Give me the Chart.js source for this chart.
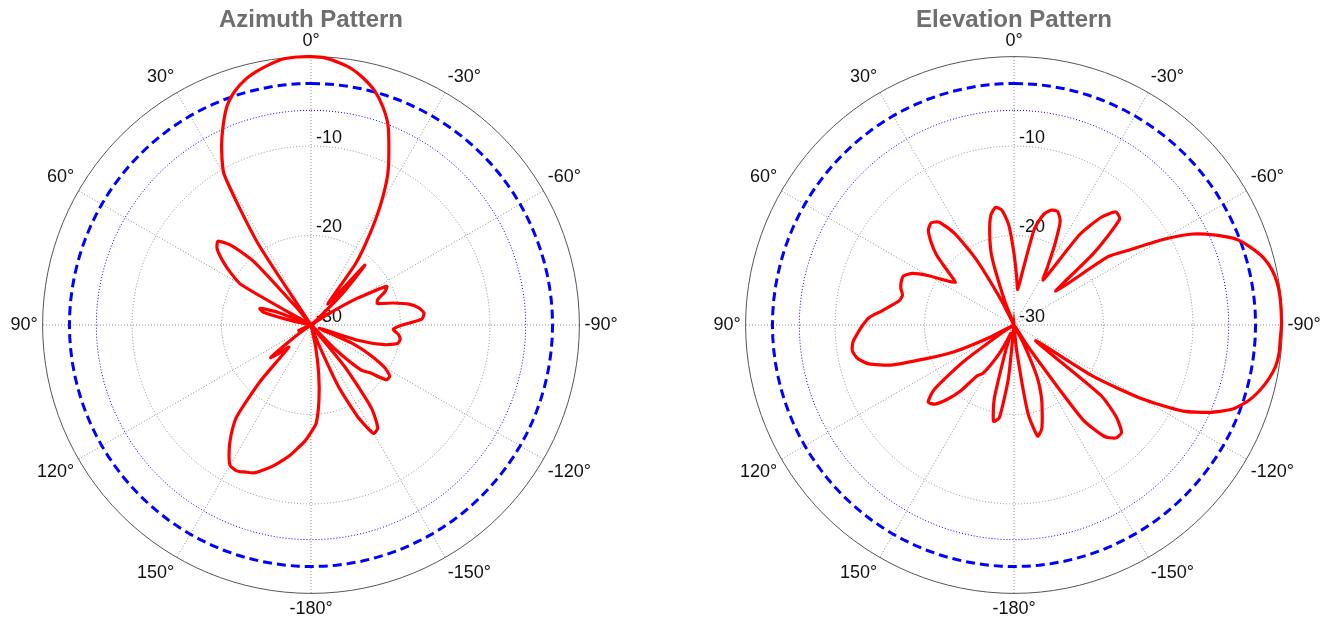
<!DOCTYPE html>
<html lang="en">
<head>
    <meta charset="UTF-8">
    <title>Antenna Patterns</title>
    <script src="https://cdn.jsdelivr.net/npm/chart.js"></script>
    <style>
        body {
            margin: 0;
            width: 1329px;
            height: 622px;
            overflow: hidden;
            position: relative;
            background-color: white;
        }

        .plot {
            position: absolute;
            top: 0;
            width: 700px;
            height: 622px;
        }
    </style>
</head>
<body>
    <div class="plot" style="left: -39px;"><canvas id="azimuthChart" width="700" height="622"></canvas></div>
    <div class="plot" style="left: 664px;"><canvas id="elevationChart" width="700" height="622"></canvas></div>

    <script>
        // angles go clockwise from the top, 3 degree steps (0, -3, ... -357)
        const angleStep = 3;
        const angles = Array.from({ length: 360 / angleStep }, (_, i) => -i * angleStep);
        const radialTicks = [-30, -20, -10];
        const halfPowerDb = -3;
        const quarterPowerDb = -6;

        // gain in dB, one row per 30 degrees (clockwise)
        const azimuthGain = [
            0.0, -0.1, -0.5, -1.0, -1.8, -2.8, -4.2, -6.0, -8.6, -11.1,
            -14.4, -18.0, -21.5, -27.0, -21.0, -25.0, -29.0, -30, -30, -28,
            -24, -20.5, -21.0, -22.0, -22.2, -20.5, -18.8, -17.8, -17.3, -17.6,
            -19.8, -20.8, -20.2, -19.9, -20.1, -21.5, -24.5, -29.0, -25.0, -22.5,
            -20.5, -19.5, -19.6, -21.5, -22.5, -26.0, -30, -24.0, -18.5, -16.3,
            -16.0, -18.5, -22.5, -28.0, -30, -30, -27.5, -24.5, -21.5, -19.0,
            -18.0, -17.0, -16.2, -15.3, -14.5, -13.7, -13.0, -12.3, -12.0, -11.7,
            -11.9, -13.2, -14.8, -16.8, -21.5, -26.5, -25.5, -24.2, -28.0, -30,
            -30, -29, -28.5, -30, -30, -30, -30, -30, -30, -30,
            -30, -30, -30, -30, -28, -24.5, -24, -26, -30, -30,
            -21, -19.3, -17.8, -16.5, -16.0, -17.5, -20.5, -28, -30, -19,
            -10.6, -8.0, -5.8, -3.8, -2.5, -1.6, -1.0, -0.5, -0.1, 0.0
        ];

        const elevationGain = [
            -22, -24.5, -26, -24, -19, -17.2, -16.5, -16.4, -17.3, -20,
            -22.5, -24, -17.5, -14.5, -13.0, -13.3, -18.0, -24, -17.0, -14.6,
            -11.0, -7.6, -5.3, -3.3, -2.1, -1.1, -0.5, -0.2, -0.1, -0.1,
            -0.1, -0.2, -0.2, -0.4, -0.9, -1.6, -2.5, -3.8, -6.0, -8.8,
            -13.5, -19.5, -27, -17.5, -14.6, -13.0, -13.0, -14.0, -17.0, -27.0,
            -30, -27.5, -23.7, -21.5, -19.8, -18.0, -17.3, -20.0, -27.0, -30,
            -30, -30, -24.0, -19.5, -19.0, -21.5, -27.0, -29.0, -28.0, -26.5,
            -25.0, -23.5, -23.0, -20.5, -18.8, -17.5, -17.1, -18.5, -23.0, -28.5,
            -30, -27, -22.5, -19.5, -15.5, -13.2, -12.1, -11.7, -11.9, -12.5,
            -13.1, -13.8, -15.1, -16.1, -16.9, -17.1, -16.7, -16.5, -16.5, -17.3,
            -19.0, -20.8, -21.9, -20.5, -18.4, -16.9, -15.7, -15.3, -15.8, -17.8,
            -21.5, -27.0, -30, -27, -22, -19.5, -17.5, -16.7, -17.1, -18.8
        ];

        const fontFamily = '"Liberation Sans", Arial, sans-serif';

        function degreeLabel(value) {
            const t = value < -180 ? value + 360 : value;
            return t + '\u00B0';
        }

        // dB labels sit just right of the 0 degree spoke, above each ring
        const dbLabels = {
            id: 'dbLabels',
            beforeDatasetsDraw(chart) {
                const scale = chart.scales.r;
                const ctx = chart.ctx;
                ctx.save();
                ctx.font = '18px ' + fontFamily;
                ctx.fillStyle = '#111';
                ctx.textAlign = 'left';
                ctx.textBaseline = 'alphabetic';
                radialTicks.forEach(v => {
                    const d = scale.getDistanceFromCenterForValue(v);
                    ctx.fillText(String(v), scale.xCenter + 5, scale.yCenter - d - 3.5);
                });
                ctx.restore();
            }
        };

        function makePolarChart(canvasId, title, gain) {
            const ctx = document.getElementById(canvasId).getContext('2d');
            return new Chart(ctx, {
                type: 'radar',
                data: {
                    labels: angles,
                    datasets: [
                        {
                            data: gain,
                            borderColor: '#ff0000',
                            borderWidth: 3.2,
                            tension: 0.2
                        },
                        {
                            data: angles.map(() => halfPowerDb),
                            borderColor: '#0000ff',
                            borderWidth: 3,
                            borderDash: [9, 5]
                        },
                        {
                            data: angles.map(() => quarterPowerDb),
                            borderColor: '#0000ff',
                            borderWidth: 1,
                            borderDash: [1, 2]
                        }
                    ]
                },
                options: {
                    responsive: false,
                    animation: false,
                    layout: { padding: { bottom: 2 } },
                    elements: {
                        line: { tension: 0, fill: false },
                        point: { radius: 0, hitRadius: 0 }
                    },
                    plugins: {
                        legend: { display: false },
                        tooltip: { enabled: false },
                        title: {
                            display: true,
                            text: title,
                            color: '#6f6f6f',
                            font: { family: fontFamily, size: 24, weight: 'bold', lineHeight: 0.817 },
                            padding: { top: 10.4, bottom: 0 }
                        }
                    },
                    scales: {
                        r: {
                            min: -30,
                            max: 0,
                            startAngle: 0,
                            ticks: { display: false, stepSize: 10 },
                            grid: {
                                circular: true,
                                lineWidth: 1,
                                color: c => (c.tick && c.tick.value === 0) ? '#555' : '#8c8c8c'
                            },
                            border: {
                                dash: c => (c.tick && c.tick.value === 0) ? [] : [1, 2]
                            },
                            angleLines: {
                                color: '#8c8c8c',
                                borderDash: [1, 2],
                                lineWidth: c => c.index % 10 === 0 ? 1 : 0
                            },
                            pointLabels: {
                                display: true,
                                padding: 5,
                                color: '#111',
                                font: { family: fontFamily, size: 18 },
                                callback: (value, index) => index % 10 === 0 ? degreeLabel(value) : ''
                            }
                        }
                    }
                },
                plugins: [dbLabels]
            });
        }

        makePolarChart('azimuthChart', 'Azimuth Pattern', azimuthGain);
        makePolarChart('elevationChart', 'Elevation Pattern', elevationGain);
    </script>
</body>
</html>
